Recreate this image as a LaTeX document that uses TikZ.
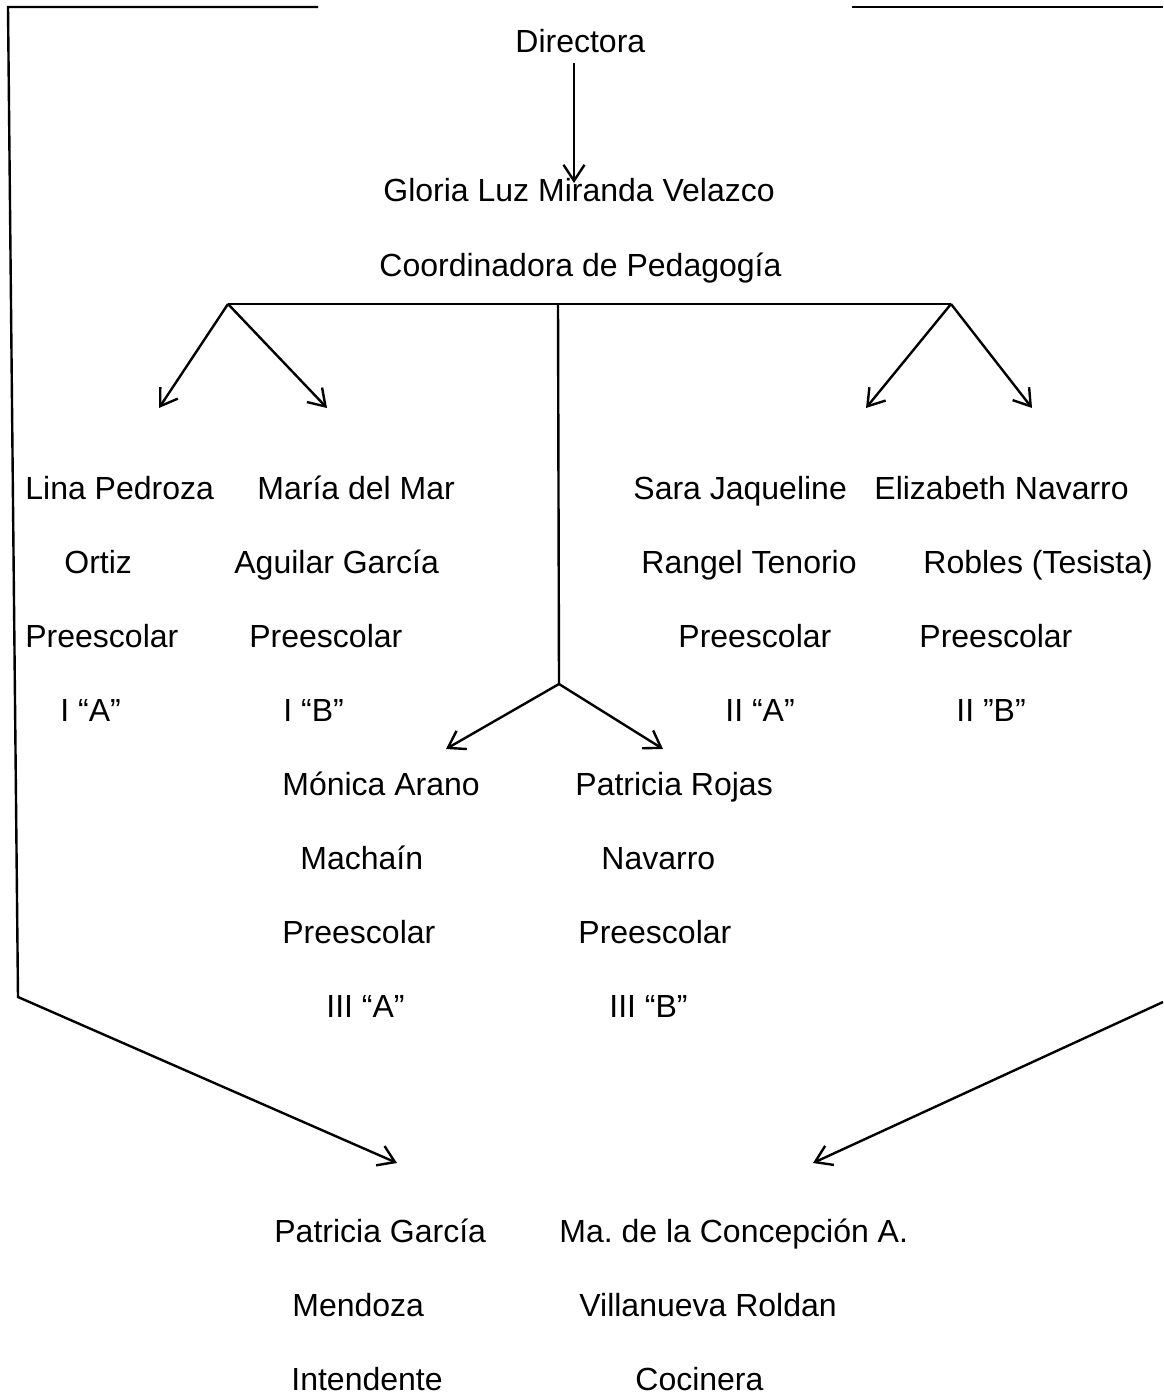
\documentclass[tikz,border=0pt]{standalone}
\usepackage{fontspec}
\setmainfont{Liberation Sans}
\usetikzlibrary{arrows.meta}
\frenchspacing

\begin{document}
\begin{tikzpicture}[x = 0.5pt, y = -0.5pt,
    txt/.style = {anchor = base west, inner sep = 0pt, font = \fontsize{16}{19}\selectfont},
    arr/.style = {-{Straight Barb[length = 8pt, width = 10.5pt]}, line width = 1.2pt},
    ln/.style = {line width = 1.2pt}]
    \useasboundingbox (0,0) rectangle (1163,1395);

    \node[txt](directora) at (515,53) {Directora};
    \node[txt](gloria) at (383,202) {Gloria Luz Miranda Velazco};
    \node[txt](coord) at (379,277) {Coordinadora de Pedagogía};

    \node[txt](lina1) at (25,499) {Lina Pedroza};
    \node[txt](lina2) at (64,573) {Ortiz};
    \node[txt](lina3) at (25,647) {Preescolar};
    \node[txt](lina4) at (60,721) {I “A”};

    \node[txt](maria1) at (257,499) {María del Mar};
    \node[txt](maria2) at (234,573) {Aguilar García};
    \node[txt](maria3) at (249,647) {Preescolar};
    \node[txt](maria4) at (283,721) {I “B”};

    \node[txt](sara1) at (633,499) {Sara Jaqueline};
    \node[txt](sara2) at (641,573) {Rangel Tenorio};
    \node[txt](sara3) at (678,647) {Preescolar};
    \node[txt](sara4) at (725,721) {II “A”};

    \node[txt](eliza1) at (874,499) {Elizabeth Navarro};
    \node[txt](eliza2) at (923,573) {Robles (Tesista)};
    \node[txt](eliza3) at (919,647) {Preescolar};
    \node[txt](eliza4) at (956,721) {II ”B”};

    \node[txt](monica1) at (282,795) {Mónica Arano};
    \node[txt](monica2) at (300,869) {Machaín};
    \node[txt](monica3) at (282,943) {Preescolar};
    \node[txt](monica4) at (326,1017) {III “A”};

    \node[txt](rojas1) at (575,795) {Patricia Rojas};
    \node[txt](rojas2) at (601,869) {Navarro};
    \node[txt](rojas3) at (578,943) {Preescolar};
    \node[txt](rojas4) at (609,1017) {III “B”};

    \node[txt](garcia1) at (274,1242) {Patricia García};
    \node[txt](garcia2) at (292,1316) {Mendoza};
    \node[txt](garcia3) at (291,1390) {Intendente};

    \node[txt](conce1) at (559,1242) {Ma. de la Concepción A.};
    \node[txt](conce2) at (579,1316) {Villanueva Roldan};
    \node[txt](conce3) at (635,1390) {Cocinera};

    \coordinate (dirfoot) at (574,63);
    \coordinate (dirtip) at (574,183);
    \coordinate (jleft) at (228,304);
    \coordinate (jmid) at (558,304);
    \coordinate (jright) at (951,304);
    \coordinate (jlow) at (559,684);
    \coordinate (tlina) at (159,408);
    \coordinate (tmaria) at (327,408);
    \coordinate (tsara) at (866,408);
    \coordinate (teliza) at (1032,408);
    \coordinate (tmonica) at (446,749);
    \coordinate (trojas) at (663,749);
    \coordinate (ltop) at (318,7);
    \coordinate (lcorner) at (8,7);
    \coordinate (lfoot) at (18,997);
    \coordinate (rtop) at (852,7);
    \coordinate (rcorner) at (1163,7);
    \coordinate (rfoot) at (1163,1002);
    \coordinate (tgarcia) at (397,1163);
    \coordinate (tconce) at (813,1163);

    \draw[arr] (dirfoot) -- (dirtip);
    \draw[ln] (jleft) -- (jright);
    \draw[ln] (jmid) -- (jlow);
    \draw[arr] (jleft) -- (tlina);
    \draw[arr] (jleft) -- (tmaria);
    \draw[arr] (jright) -- (tsara);
    \draw[arr] (jright) -- (teliza);
    \draw[arr] (jlow) -- (tmonica);
    \draw[arr] (jlow) -- (trojas);

    \draw[arr] (ltop) -- (lcorner) -- (lfoot) -- (tgarcia);
    \draw[ln] (rtop) -- (rcorner);
    \draw[arr] (rfoot) -- (tconce);
\end{tikzpicture}
\end{document}
